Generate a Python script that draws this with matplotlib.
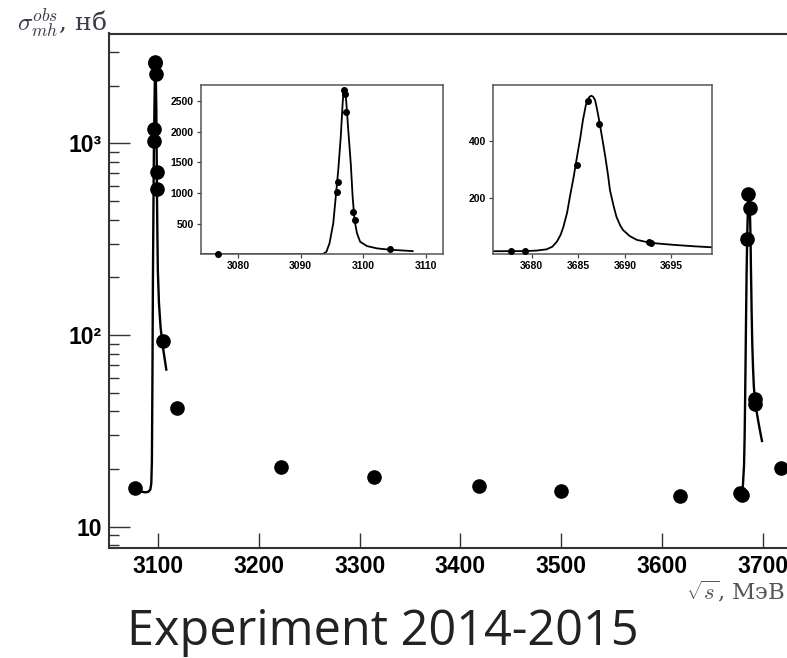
import matplotlib
matplotlib.use("Agg")
import matplotlib.pyplot as plt
from matplotlib.ticker import FixedLocator, FixedFormatter, NullFormatter
import numpy as np

plt.rcParams["font.family"] = ["Liberation Sans", "DejaVu Sans"]
plt.rcParams["font.weight"] = "bold"
plt.rcParams["mathtext.fontset"] = "cm"

# Observed multihadron cross section, nb, vs c.m. energy, MeV
energy = [3076.8, 3095.8, 3096.0, 3096.9, 3097.1, 3097.3, 3098.4, 3098.6, 3104.3, 3118.6,
          3221.5, 3314.3, 3418.0, 3499.6, 3617.9, 3677.8, 3679.3,
          3684.9, 3686.0, 3687.2, 3692.6, 3692.8, 3718.7]
xsec = [15.9, 1028, 1190, 2670, 2610, 2310, 705, 575, 93, 41.6,
        20.4, 18.2, 16.3, 15.4, 14.5, 15.0, 14.6,
        316, 541, 461, 46.6, 43.5, 20.3]

# J/psi fit curve
jpsi_fit_e = [3074.0, 3077.0, 3080.0, 3084.0, 3087.0, 3090.0, 3092.0, 3093.0, 3093.6,
              3094.1, 3094.6, 3095.2, 3095.6, 3096.0, 3096.4, 3096.7, 3096.9, 3097.1,
              3097.3, 3097.6, 3098.0, 3098.3, 3098.6, 3099.0, 3099.5, 3100.6, 3102.2,
              3104.3, 3107.9]
jpsi_fit_xs = [16.0, 15.8, 15.5, 15.2, 15.1, 15.2, 15.6, 16.8, 22.0,
               55.0, 191, 515, 945, 1377, 1916, 2456, 2700, 2673,
               2456, 2024, 1485, 945, 568, 353, 217, 147, 110,
               88, 66]

# psi(2S) fit curve
psi2s_fit_e = [3675.8, 3679.3, 3680.5, 3681.6, 3682.2, 3682.7, 3683.1, 3683.4, 3683.8,
               3684.1, 3684.5, 3684.8, 3685.2, 3685.5, 3685.8, 3686.0, 3686.2, 3686.4,
               3686.6, 3686.8, 3687.0, 3687.3, 3687.6, 3687.9, 3688.2, 3688.4, 3688.8,
               3689.1, 3689.5, 3689.8, 3690.5, 3691.3, 3692.7, 3694.0, 3695.5, 3697.5,
               3699.4]
psi2s_fit_xs = [14.3, 14.8, 16.5, 21.0, 30.0, 48.0, 72.0, 100, 150,
                206, 275, 334, 410, 475, 525, 545, 556, 560,
                556, 545, 515, 463, 405, 346, 280, 229, 172,
                135, 105, 89, 68, 54, 44, 40, 36, 31.5,
                28]

main_xticks = [3100, 3200, 3300, 3400, 3500, 3600, 3700]
main_yticks = [10, 100, 1000]
main_yticklabels = ["10", "10\u00b2", "10\u00b3"]
main_yminor = [8, 9, 20, 30, 40, 50, 60, 70, 80, 90,
               200, 300, 400, 500, 600, 700, 800, 900, 2000, 3000]

inset1_xticks = [3080, 3090, 3100, 3110]
inset1_yticks = [500, 1000, 1500, 2000, 2500]
inset2_xticks = [3680, 3685, 3690, 3695]
inset2_yticks = [200, 400]

W, H = 787, 658

fig = plt.figure(figsize=(W / 100, H / 100), dpi=100)

# main panel (its right part runs past the figure edge)
left, right, top, bottom = 109, 823, 33.5, 548.3
ax = fig.add_axes([left / W, 1 - bottom / H, (right - left) / W, (bottom - top) / H])
ax.set_yscale("log")
ax.set_xlim(3051.0, 3760.0)
ax.set_ylim(7.71, 3740)

ax.plot(jpsi_fit_e, jpsi_fit_xs, color="black", lw=1.7, zorder=2)
ax.plot(psi2s_fit_e, psi2s_fit_xs, color="black", lw=1.7, zorder=2)
ax.plot(energy, xsec, "o", color="black", ms=9.5, zorder=3, clip_on=False)

for s in ax.spines.values():
    s.set_color("#333333")
    s.set_linewidth(1.5)

ax.xaxis.set_major_locator(FixedLocator(main_xticks))
ax.xaxis.set_minor_locator(FixedLocator([]))
ax.yaxis.set_major_locator(FixedLocator(main_yticks))
ax.yaxis.set_major_formatter(FixedFormatter(main_yticklabels))
ax.yaxis.set_minor_locator(FixedLocator(main_yminor))
ax.yaxis.set_minor_formatter(NullFormatter())
ax.tick_params(axis="x", which="major", direction="in", length=11, width=1.0,
               color="#333333", pad=4.5, labelsize=16.5)
ax.tick_params(axis="y", which="major", direction="in", length=15, width=1.0,
               color="#333333", pad=5, labelsize=16.5)
ax.tick_params(axis="y", which="minor", direction="in", length=7.5, width=1.0,
               color="#333333")
ax.tick_params(top=False, right=False)

fig.text(17 / W, 1 - 32 / H, r"$\sigma^{obs}_{mh}$, нб", fontsize=18,
         family=["DejaVu Serif"], fontweight="normal", color="#3a3a48",
         ha="left", va="baseline")
fig.text(785 / W, 1 - 599 / H, r"$\sqrt{s}$, МэВ", fontsize=16.5,
         family=["DejaVu Serif"], fontweight="normal", color="#555555",
         ha="right", va="baseline")


def inset(rect_px, xlim, ylim, xticks, yticks, fit_e, fit_xs):
    l, r, t, b = rect_px
    a = fig.add_axes([l / W, 1 - b / H, (r - l) / W, (b - t) / H])
    a.set_xlim(*xlim)
    a.set_ylim(*ylim)
    a.plot(fit_e, fit_xs, color="black", lw=1.3, zorder=2)
    e = np.asarray(energy)
    xs = np.asarray(xsec)
    m = (e >= xlim[0]) & (e <= xlim[1])
    a.plot(e[m], xs[m], "o", color="black", ms=4, zorder=3, clip_on=False)
    for s in a.spines.values():
        s.set_color("#555555")
        s.set_linewidth(1.1)
    a.xaxis.set_major_locator(FixedLocator(xticks))
    a.yaxis.set_major_locator(FixedLocator(yticks))
    a.tick_params(axis="both", direction="out", length=3, width=0.9,
                  color="#444444", pad=2, labelsize=7.5)
    return a


inset((200.7, 443.3, 85, 254), (3074.0, 3112.8), (19, 2754),
      inset1_xticks, inset1_yticks, jpsi_fit_e, jpsi_fit_xs)
inset((492.7, 712.3, 85, 254.3), (3675.8, 3699.4), (3.5, 597.6),
      inset2_xticks, inset2_yticks, psi2s_fit_e, psi2s_fit_xs)

fig.text(383 / W, 1 - 632 / H, "Experiment 2014-2015", fontsize=35,
         family=["Open Sans"], fontweight="normal", color="#222222",
         ha="center", va="center")

fig.savefig("out.png", dpi=100)
